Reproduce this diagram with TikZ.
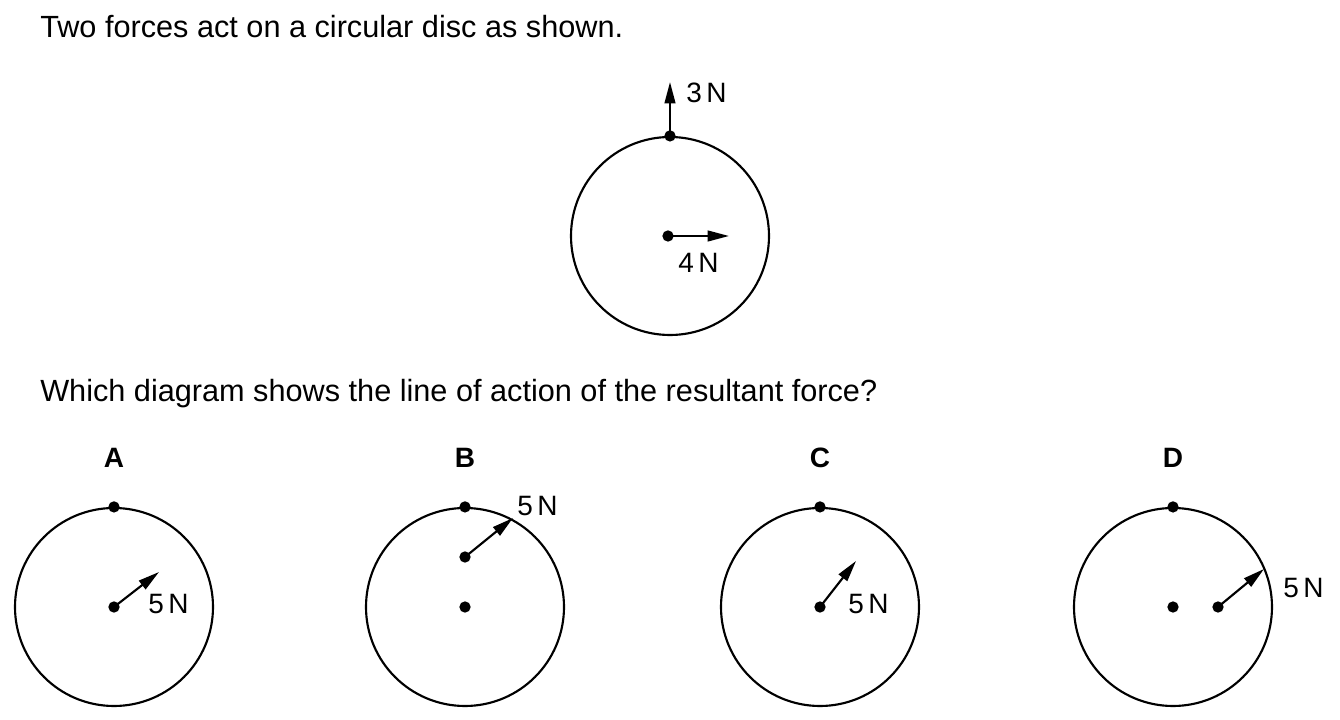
\documentclass[tikz,border=0pt]{standalone}
\usepackage{fontspec}
\setmainfont{Liberation Sans}
\usetikzlibrary{arrows.meta}

\tikzset{
  disc/.style={draw, circle, line width=1.6pt, minimum size=148.5pt, inner sep=0pt},
  dot/.style={fill, circle, minimum size=8.5pt, inner sep=0pt},
  force/.style={line width=1.6pt, -{Triangle[length=16pt,width=8pt]}},
  lbl/.style={font=\fontsize{21}{24}\selectfont, inner sep=0pt},
  txt/.style={font=\fontsize{23}{27}\selectfont, inner sep=0pt, anchor=base west},
}

\begin{document}
\begin{tikzpicture}[x=0.75pt, y=-0.75pt]
  \useasboundingbox (0,0) rectangle (1340,720);

  % --- question text ---
  \node[txt] (q1) at (40,38) {Two forces act on a circular disc as shown.};
  \node[txt] (q2) at (40,402) {Which diagram shows the line of action of the resultant force?};

  % --- disc with the two forces ---
  \node[disc] (disc) at (670,236) {};
  \node[dot] (top) at (disc.north) {};
  \node[dot] (mid) at (668,236) {};
  \coordinate (up) at (670,82);
  \coordinate (right) at (729,236);
  \draw[force] (top.center) -- (up);
  \draw[force] (mid.center) -- (right);
  \node[lbl, anchor=base west] (f3) at (686,103) {3\,N};
  \node[lbl, anchor=base west] (f4) at (678,273) {4\,N};

  % --- the four answers ---
  \foreach \name/\x in {A/114, B/465, C/820, D/1173} {
    \node[lbl, font=\bfseries\fontsize{21}{24}\selectfont, anchor=base] (l\name) at (\x,468) {\name};
    \node[disc] (d\name) at (\x,607) {};
    \node[dot] (t\name) at (d\name.north) {};
    \node[dot] (c\name) at (\x,607) {};
  }

  % A
  \coordinate (eA) at (159,572);
  \draw[force] (cA.center) -- (eA);
  \node[lbl, anchor=base west] (rA) at (148,613) {5\,N};

  % B
  \node[dot] (pB) at (465,557) {};
  \coordinate (eB) at (513,518);
  \draw[force] (pB.center) -- (eB);
  \node[lbl, anchor=base west] (rB) at (517,515) {5\,N};

  % C
  \coordinate (eC) at (856,561);
  \draw[force] (cC.center) -- (eC);
  \node[lbl, anchor=base west] (rC) at (848,613) {5\,N};

  % D
  \node[dot] (pD) at (1218,607) {};
  \coordinate (eD) at (1264,569);
  \draw[force] (pD.center) -- (eD);
  \node[lbl, anchor=base west] (rD) at (1283,597) {5\,N};
\end{tikzpicture}
\end{document}
